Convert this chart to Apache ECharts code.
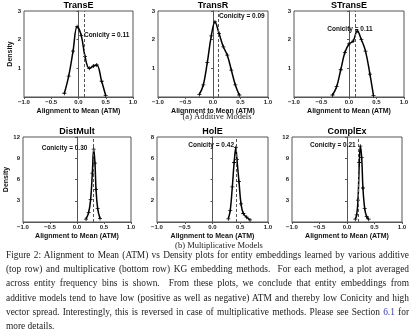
<!DOCTYPE html>
<html>
<head>
<meta charset="utf-8">
<script src="https://cdn.jsdelivr.net/npm/echarts@6/dist/echarts.min.js"></script>
<style>
body{margin:0;background:#fff}
#wrap{position:relative;width:415px;height:330px;overflow:hidden}
#chart{position:absolute;left:0;top:0;width:415px;height:330px}
.cap{position:absolute;left:6px;top:248px;width:403px;font-family:'Liberation Serif',serif;font-size:9.4px;line-height:14.2px;color:#222}
.cap div{text-align:justify;text-align-last:justify}
.cap div.last{text-align-last:left}
.cap span{color:#3b3ba8}
</style>
</head>
<body>
<div id="wrap">
  <div id="chart"></div>
  <div class="cap">
    <div>Figure 2: Alignment to Mean (ATM) vs Density plots for entity embeddings learned by various additive</div>
    <div>(top row) and multiplicative (bottom row) KG embedding methods.&nbsp; For each method, a plot averaged</div>
    <div>across entity frequency bins is shown.&nbsp; From these plots, we conclude that entity embeddings from</div>
    <div>additive models tend to have low (positive as well as negative) ATM and thereby low Conicity and high</div>
    <div>vector spread. Interestingly, this is reversed in case of multiplicative methods. Please see Section <span>6.1</span> for</div>
    <div class="last">more details.</div>
  </div>
</div>
<script>
// ATM (x) and density (y)
const atmTransE  = [-0.26, -0.18, -0.1, -0.025, 0.05, 0.12, 0.198, 0.272, 0.334, 0.425, 0.499]
const densTransE = [0.13, 0.73, 1.6, 2.45, 2.15, 1.41, 1.0, 1.08, 1.12, 0.55, 0.05]
const atmTransR  = [-0.249, -0.176, -0.104, -0.031, 0.036, 0.109, 0.188, 0.26, 0.333, 0.406, 0.478]
const densTransR = [0.09, 0.42, 1.2, 2.13, 2.62, 2.22, 1.75, 1.46, 0.94, 0.42, 0.07]
const atmSTransE  = [-0.3, -0.225, -0.15, -0.075, 0.0, 0.075, 0.15, 0.225, 0.3, 0.38, 0.445]
const densSTransE = [0.07, 0.36, 0.95, 1.55, 1.85, 1.95, 2.3, 2.0, 1.6, 0.8, 0.05]
const atmDistMult  = [0.167, 0.216, 0.253, 0.284, 0.309, 0.333, 0.352, 0.383, 0.426]
const densDistMult = [0.42, 1.35, 3.2, 6.9, 10.3, 8.3, 4.6, 1.9, 0.5]
const atmHolE  = [0.285, 0.32, 0.357, 0.39, 0.42, 0.44, 0.477, 0.514, 0.555, 0.616, 0.676]
const densHolE = [0.3, 1.1, 3.3, 5.6, 7.0, 5.9, 3.8, 1.7, 0.8, 0.45, 0.2]
const atmComplEx  = [0.151, 0.176, 0.2, 0.224, 0.242, 0.267, 0.29, 0.322, 0.358, 0.395]
const densComplEx = [0.4, 1.0, 3.1, 8.4, 10.7, 9.1, 4.8, 1.9, 0.75, 0.4]

const modelNames = ['TransE', 'TransR', 'STransE', 'DistMult', 'HolE', 'ComplEx']
const conicity = [0.11, 0.09, 0.11, 0.30, 0.42, 0.21]
const yMax = [3, 3, 3, 12, 8, 12]
const yStep = [1, 1, 1, 3, 2, 3]
const xTicks = [-1.0, -0.5, 0.0, 0.5, 1.0]
// where each "Conicity = ..." note starts (data coords)
const notePos = [[0.1, 2.15], [0.109, 2.83], [-0.395, 2.37], [-0.654, 10.4], [-0.436, 7.2], [-0.673, 10.9]]

const atm = [atmTransE, atmTransR, atmSTransE, atmDistMult, atmHolE, atmComplEx]
const dens = [densTransE, densTransR, densSTransE, densDistMult, densHolE, densComplEx]

const grids = [
  {left: 24, top: 11, width: 109, height: 86},
  {left: 158, top: 11, width: 110, height: 86},
  {left: 294, top: 11, width: 110, height: 86},
  {left: 23, top: 137, width: 108, height: 85},
  {left: 157, top: 137, width: 111, height: 85},
  {left: 292, top: 137, width: 110, height: 85}
]

const sans = 'Liberation Sans'
const plus = 'path://M4,0h2v4h4v2h-4v4h-2v-4h-4v-2h4z'

let xAxis = [], yAxis = [], series = [], graphic = []
for (let i = 0; i < 6; i++) {
  xAxis.push({
    type: 'value', gridIndex: i, min: xTicks[0], max: xTicks[xTicks.length - 1], interval: 0.5,
    axisLine: {show: true, lineStyle: {color: '#555', width: 1}},
    axisTick: {show: true, length: 2, lineStyle: {color: '#555'}},
    axisLabel: {fontSize: 6, fontWeight: 'bold', fontFamily: sans, color: '#222', margin: 2,
      formatter: v => v.toFixed(1).replace('-', '\u2212')},
    splitLine: {show: false},
    name: 'Alignment to Mean (ATM)', nameLocation: 'middle', nameGap: 11,
    nameTextStyle: {fontSize: 7, fontWeight: 'bold', fontFamily: sans, color: '#111'}
  })
  yAxis.push({
    type: 'value', gridIndex: i, min: 0, max: yMax[i], interval: yStep[i],
    axisLine: {show: true, lineStyle: {color: '#555', width: 1}},
    axisTick: {show: true, length: 2, lineStyle: {color: '#555'}},
    axisLabel: {fontSize: 6, fontWeight: 'bold', fontFamily: sans, color: '#222', margin: 3,
      formatter: v => v === 0 ? '' : v},
    splitLine: {show: false},
    name: (i % 3 === 0) ? 'Density' : '', nameLocation: 'middle', nameGap: 8,
    nameTextStyle: {fontSize: 7, fontWeight: 'bold', fontFamily: sans, color: '#111'}
  })
  series.push({
    type: 'line', xAxisIndex: i, yAxisIndex: i,
    data: atm[i].map((x, k) => [x, dens[i][k]]),
    smooth: 0.4, symbol: plus, symbolSize: 4, showSymbol: true,
    lineStyle: {color: '#000', width: 1.5}, itemStyle: {color: '#000'},
    markLine: {silent: true, symbol: 'none', label: {show: false},
      lineStyle: {type: [3, 2], color: '#555', width: 1},
      data: [{xAxis: conicity[i]}]},
    markPoint: {silent: true, symbol: 'circle', symbolSize: 0,
      data: [{coord: notePos[i]}],
      label: {show: true, position: [0, 0], align: 'left', verticalAlign: 'middle',
        fontSize: 6.5, fontWeight: 'bold', fontFamily: sans, color: '#111',
        formatter: 'Conicity = ' + conicity[i].toFixed(2)}}
  })
  const g = grids[i]
  graphic.push({type: 'text', x: g.left + g.width / 2, y: g.top - 5,
    style: {text: modelNames[i], fill: '#000', align: 'center', verticalAlign: 'middle',
      font: 'bold 9px ' + sans}})
}
graphic.push({type: 'text', x: 217, y: 117,
  style: {text: '(a) Additive Models', fill: '#222', align: 'center', verticalAlign: 'middle',
    font: '8.5px "Liberation Serif"'}})
graphic.push({type: 'text', x: 219, y: 246,
  style: {text: '(b) Multiplicative Models', fill: '#222', align: 'center', verticalAlign: 'middle',
    font: '8.5px "Liberation Serif"'}})

const chart = echarts.init(document.getElementById('chart'))
chart.setOption({
  animation: false,
  grid: grids.map(g => Object.assign({show: true, borderColor: '#555', borderWidth: 1, backgroundColor: 'transparent'}, g)),
  xAxis: xAxis,
  yAxis: yAxis,
  series: series,
  graphic: graphic
})
</script>
</body>
</html>
